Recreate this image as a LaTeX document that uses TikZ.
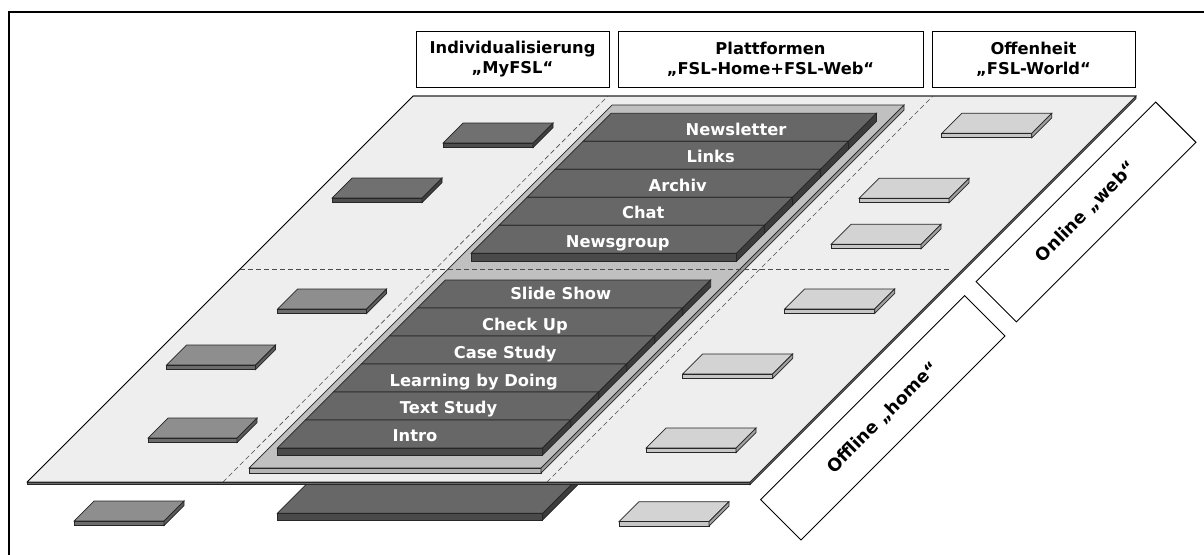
\documentclass[tikz,border=0pt]{standalone}
\usepackage{fontspec}
\setmainfont{DejaVu Sans}
\usepackage{tikz}

% 灰度配色
\definecolor{ebene}{HTML}{EEEEEE}
\definecolor{ebenerand}{HTML}{6A6A6A}
\definecolor{sockel}{HTML}{C0C0C0}
\definecolor{sockelv}{HTML}{B4B4B4}
\definecolor{sockels}{HTML}{9A9A9A}
\definecolor{balken}{HTML}{676767}
\definecolor{balkenv}{HTML}{4A4A4A}
\definecolor{balkens}{HTML}{3C3C3C}
\definecolor{dunkel}{HTML}{707070}
\definecolor{dunkelv}{HTML}{4E4E4E}
\definecolor{dunkels}{HTML}{404040}
\definecolor{mittel}{HTML}{8E8E8E}
\definecolor{mittelv}{HTML}{6C6C6C}
\definecolor{mittels}{HTML}{5A5A5A}
\definecolor{hell}{HTML}{D3D3D3}
\definecolor{hellv}{HTML}{C6C6C6}
\definecolor{hells}{HTML}{A0A0A0}

% 斜板:左下角x, y, 宽, 深, 厚, 顶面色, 正面色, 侧面色
\newcommand{\platte}[8]{%
  \filldraw[kante,fill=#6] ({#1},{#2}) -- ++({#3},0) -- ++({#4},{-(#4)}) -- ++({-(#3)},0) -- cycle;
  \filldraw[kante,fill=#7] ({#1},{#2}) rectangle ++({#3},{#5});
  \filldraw[kante,fill=#8] ({#1+#3},{#2}) -- ++({#4},{-(#4)}) -- ++(0,{#5}) -- ++({-(#4)},{#4}) -- cycle;
}

\begin{document}
\begin{tikzpicture}[x=1pt,y=-1pt,
  kante/.style={draw=black!85,line width=0.7pt},
  trenn/.style={draw=black!70,line width=0.6pt,dash pattern=on 5pt off 3pt},
  kopf/.style={draw,line width=0.8pt,fill=white,minimum height=56pt,align=center,
    font=\bfseries\fontsize{16.3}{20}\selectfont},
  seite/.style={draw,line width=0.9pt,fill=white,minimum height=57pt,rotate=45,
    font=\bfseries\fontsize{17.5}{20}\selectfont},
  balkentext/.style={text=white,inner sep=0pt,text height=12pt,text depth=0pt,
    font=\bfseries\fontsize{16.3}{18}\selectfont}]
\useasboundingbox (0,0) rectangle (1204,554);

% 外框
\draw[line width=2pt] (9,560) -- (9,12) -- (1210,12);

% 平面下方的块
\platte{277.3}{513.3}{265.4}{40}{6.7}{balken}{balkenv}{balkens}
\platte{74}{521}{90}{20}{4.5}{mittel}{mittelv}{mittels}
\platte{619}{521.7}{90}{20}{4.5}{hell}{hellv}{hells}

% 主平面
\platte{27}{482}{723}{386}{2.5}{ebene}{ebenerand}{ebenerand}
\draw[line width=0.7pt] (27,482) -- (413,96) -- (1136,96);

% 分隔虚线
\draw[trenn] (223,482) -- (608,96);
\draw[trenn] (547,482) -- (933,96);

% 中间底座
\platte{249}{468}{292}{363}{5}{sockel}{sockelv}{sockels}
\draw[trenn] (240,269) -- (950,269);

% 上层条块 (web)
\foreach \k in {0,...,4}
  {\platte{471+28*(4-\k)}{141.3+28*\k}{265.5}{28}{8}{balken}{balkenv}{balkens}}

% 下层条块 (home)
\foreach \k in {0,...,5}
  {\platte{277.3+28*(5-\k)}{308+28*\k}{265.4}{28}{7}{balken}{balkenv}{balkens}}

% 左列小块
\foreach \x/\y in {443/143, 332/198}
  {\platte{\x}{\y}{90}{20}{4.5}{dunkel}{dunkelv}{dunkels}}
\foreach \x/\y in {277.5/309, 166.5/365, 148/438}
  {\platte{\x}{\y}{89}{20}{4.5}{mittel}{mittelv}{mittels}}

% 右列小块
\foreach \x/\y in {941.7/133.3, 859/198.3, 831/244.3, 784.7/309, 682.7/374, 646/448}
  {\platte{\x}{\y}{90}{20}{4.5}{hell}{hellv}{hells}}

% 条块文字
\foreach \t/\x/\y [count=\i] in {Newsletter/736/129.3, Links/710.7/156.7,
    Archiv/677.7/185, Chat/643.3/212.7, Newsgroup/617.7/241}
  \node[balkentext] (web\i) at (\x,\y) {\t};
\foreach \t/\x/\y [count=\i] in {Slide Show/560.7/293.3, Check Up/525/324.3,
    Case Study/505.2/352.7, Learning by Doing/473.8/380, Text Study/448.5/407.7,
    Intro/415/435.7}
  \node[balkentext] (home\i) at (\x,\y) {\t};

% 顶部标题
\node[kopf,minimum width=193pt] (myfsl) at (512.5,59) {Individualisierung\\„MyFSL“};
\node[kopf,minimum width=305pt] (plattform) at (770.5,59) {Plattformen\\„FSL-Home+FSL-Web“};
\node[kopf,minimum width=203pt] (world) at (1033.5,59) {Offenheit\\„FSL-World“};

% 右侧斜标签
\node[seite,minimum width=254pt] (online) at (1086,212) {Online „web“};
\node[seite,minimum width=288.5pt] (offline) at (882.8,417.8) {Offline „home“};
\end{tikzpicture}
\end{document}
